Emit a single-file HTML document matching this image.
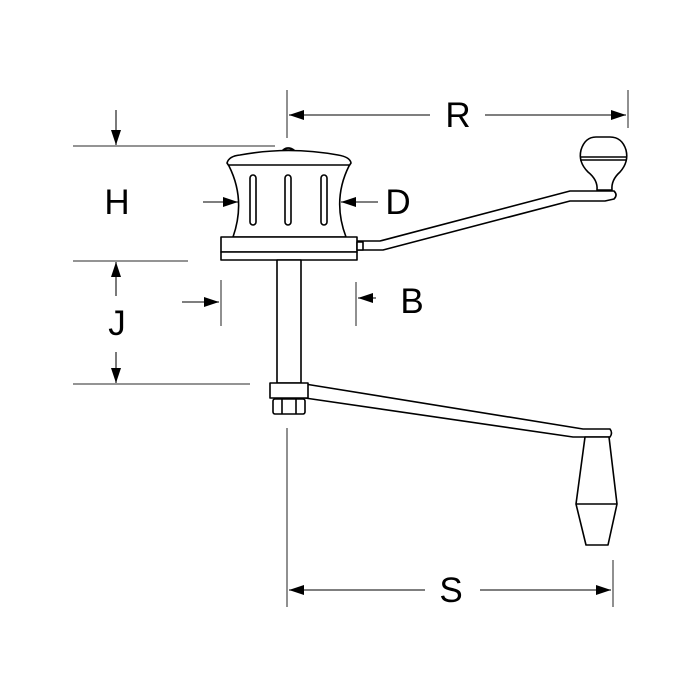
<!DOCTYPE html>
<html><head><style>body{margin:0;background:#fff}svg{display:block}</style></head><body>
<svg width="700" height="700" viewBox="0 0 700 700" xmlns="http://www.w3.org/2000/svg">
<defs><marker id="b" viewBox="0 0 10 10" refX="10" refY="5" markerWidth="15" markerHeight="10" markerUnits="userSpaceOnUse" orient="auto" preserveAspectRatio="none"><path d="M0,0L10,5L0,10z" fill="#000"/></marker></defs>
<g stroke="#555" stroke-width="1.3" fill="none">
<line x1="73" y1="146" x2="275" y2="146"/><line x1="73" y1="261" x2="188" y2="261"/><line x1="73" y1="384" x2="250" y2="384"/>
<line x1="287" y1="90" x2="287" y2="138"/><line x1="628" y1="90" x2="628" y2="128"/>
<line x1="221" y1="280" x2="221" y2="326"/><line x1="356" y1="282" x2="356" y2="326"/>
<line x1="287" y1="428" x2="287" y2="607"/><line x1="613" y1="560" x2="613" y2="607"/>
</g>
<g stroke="#333" stroke-width="1.3" fill="none">
<line x1="116" y1="110" x2="116" y2="145" marker-end="url(#b)"/>
<line x1="116" y1="296" x2="116" y2="262" marker-end="url(#b)"/>
<line x1="116" y1="352" x2="116" y2="383" marker-end="url(#b)"/>
<line x1="203" y1="202" x2="238" y2="202" marker-end="url(#b)"/>
<line x1="378" y1="202" x2="341" y2="202" marker-end="url(#b)"/>
<line x1="182" y1="302" x2="219" y2="302" marker-end="url(#b)"/>
<line x1="376" y1="298" x2="358" y2="298" marker-end="url(#b)"/>
<line x1="430" y1="115" x2="289" y2="115" marker-end="url(#b)"/>
<line x1="485" y1="115" x2="626" y2="115" marker-end="url(#b)"/>
<line x1="425" y1="590" x2="289" y2="590" marker-end="url(#b)"/>
<line x1="480" y1="590" x2="611" y2="590" marker-end="url(#b)"/>
</g>
<g font-family="Liberation Sans, sans-serif" font-size="35" text-anchor="middle" fill="#000">
<text x="117" y="214">H</text><text x="117" y="335">J</text><text x="398" y="214">D</text>
<text x="412" y="313">B</text><text x="458" y="127">R</text><text x="451" y="602">S</text>
</g>
<g stroke="#000" stroke-width="1.6" fill="#fff" stroke-linejoin="round">
<path d="M357,241 L380,241 L570,191 L614,191 Q618,195 614,199 L605,201 L570,201 L383,250 L357,250 Z"/>
<path d="M597,190 Q598,180 588,172 Q578,162 581,150 Q585,137 596,137 L610,137 Q622,137 626,150 Q629,162 620,172 Q611,180 612,190 Z"/>
<line x1="580" y1="157" x2="627" y2="157"/><line x1="580" y1="160" x2="627" y2="160"/>
<path d="M283,150 Q288,146 294,150 Z"/>
<path d="M227,163 Q229,156 240,155 Q288,146 338,155 Q350,157 351,163 L349,166 Q332,200 346,237 L233,237 Q246,200 229,166 Z"/>
<line x1="229" y1="165" x2="349" y2="165"/>
<rect x="250" y="175" width="6" height="50" rx="3"/><rect x="285" y="175" width="6" height="50" rx="3"/><rect x="321" y="175" width="6" height="50" rx="3"/>
<rect x="221" y="237" width="136" height="15"/><rect x="221" y="252" width="136" height="8"/>
<rect x="357" y="242" width="6" height="8"/>
<rect x="277" y="260" width="24" height="123"/>
<path d="M305,384 L583,429 L610,429 Q613,433 610,437 L573,437 L305,398 Z"/>
<rect x="270" y="383" width="38" height="15"/>
<rect x="273" y="399" width="32" height="15" rx="2"/>
<line x1="282" y1="399" x2="282" y2="414"/><line x1="296" y1="399" x2="296" y2="414"/>
<path d="M585,437 L609,437 L617,504 L608,545 L586,545 L576,504 Z"/>
<line x1="576" y1="504" x2="617" y2="504"/>
</g>
</svg>
</body></html>
